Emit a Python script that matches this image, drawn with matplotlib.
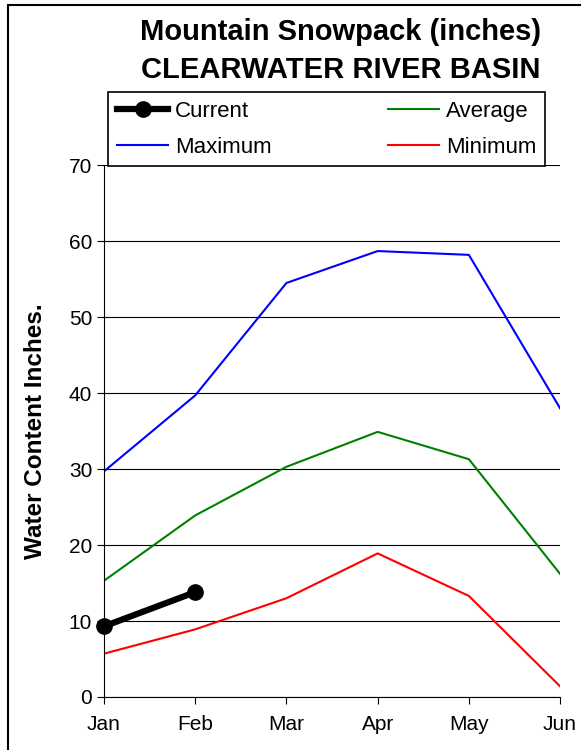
import matplotlib.pyplot as plt
from matplotlib.patches import Rectangle

plt.rcParams['font.family'] = ['Liberation Sans', 'DejaVu Sans']

months = ['Jan', 'Feb', 'Mar', 'Apr', 'May', 'Jun']
maximum = [29.7, 39.7, 54.5, 58.7, 58.2, 38.0]
average = [15.3, 23.9, 30.3, 34.9, 31.3, 16.2]
minimum = [5.7, 8.9, 13.0, 18.9, 13.3, 1.4]
current = [9.3, 13.8]

fig = plt.figure(figsize=(5.81, 7.5), dpi=100)
ax = fig.add_axes([0.179, 0.0707, 0.785, 0.709])
x = list(range(len(months)))

l_max, = ax.plot(x, maximum, color='#0000ff', lw=1.5, label='Maximum')
l_avg, = ax.plot(x, average, color='#008000', lw=1.5, label='Average')
l_min, = ax.plot(x, minimum, color='#ff0000', lw=1.5, label='Minimum')
l_cur, = ax.plot(x[:len(current)], current, color='black', lw=4.5, marker='o',
                 markersize=11, label='Current', clip_on=False, zorder=5)

ax.set_xlim(0, 5)
ax.set_ylim(0, 70)
ax.set_xticks(x)
ax.set_xticklabels(months)
ax.set_yticks(range(0, 71, 10))
ax.tick_params(labelsize=15, direction='out', length=5)
ax.tick_params(axis='x', pad=8)
ax.yaxis.grid(True, color='black', lw=0.8)
ax.set_axisbelow(True)
for s in ['top', 'right']:
    ax.spines[s].set_visible(False)
ax.set_ylabel('Water Content Inches.', fontsize=17.5, fontweight='bold', labelpad=16)

fig.text(0.587, 0.957, 'Mountain Snowpack (inches)', ha='center', va='center',
         fontsize=21, fontweight='bold')
fig.text(0.587, 0.906, 'CLEARWATER RIVER BASIN', ha='center', va='center',
         fontsize=21, fontweight='bold')

leg = fig.legend([l_cur, l_max, l_avg, l_min], ['Current', 'Maximum', 'Average', 'Minimum'],
                 ncol=2, loc='upper left', bbox_to_anchor=(0.186, 0.776, 0.752, 0.101),
                 mode='expand', fontsize=16, frameon=True, fancybox=False, framealpha=1,
                 edgecolor='black', handlelength=2.3, handletextpad=0.3, borderaxespad=0,
                 labelspacing=0.65, borderpad=0.4, columnspacing=1.0)
leg.get_frame().set_linewidth(1.2)
leg.set_zorder(10)

fig.patches.append(Rectangle((0.014, -0.01), 1.0, 1.004, transform=fig.transFigure,
                             fill=False, edgecolor='black', lw=1.5))

fig.savefig('out.png', dpi=100)
